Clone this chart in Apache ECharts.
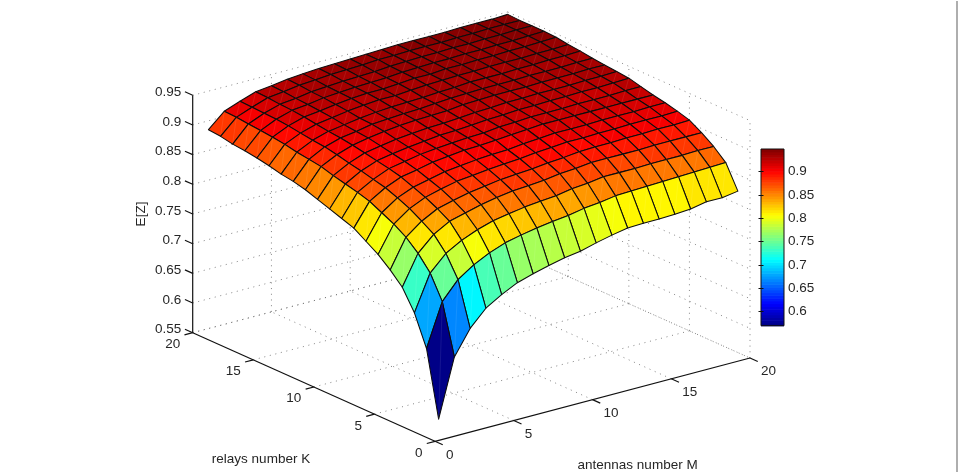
<!DOCTYPE html>
<html>
<head>
<meta charset="utf-8">
<style>html,body{margin:0;padding:0;background:#fff}#chart{width:960px;height:472px}</style>
<script src="https://cdn.jsdelivr.net/npm/echarts@6/dist/echarts.min.js"></script>
</head>
<body>
<div id="chart"></div>
<script>
// Sample grid of the surface
const antennas = [1,2,3,4,5,6,7,8,9,10,11,12,13,14,15,16,17,18,19,20];
const relays   = [1,2,3,4,5,6,7,8,9,10,11,12,13,14,15,16,17,18,19,20];

// E[Z]: one row per antenna count M, one column per relay count K
const ez_m01 = [.571,.681,.732,.766,.786,.803,.816,.829,.836,.843,.850,.857,.862,.865,.870,.874,.877,.879,.883,.885];
const ez_m02 = [.669,.753,.792,.816,.834,.847,.857,.867,.873,.878,.883,.889,.892,.895,.899,.902,.904,.906,.908,.909];
const ez_m03 = [.710,.783,.818,.841,.854,.866,.875,.883,.888,.893,.897,.902,.906,.908,.911,.914,.916,.917,.918,.919];
const ez_m04 = [.737,.801,.833,.856,.868,.878,.886,.894,.899,.903,.907,.911,.914,.916,.919,.922,.924,.925,.927,.928];
const ez_m05 = [.753,.814,.844,.863,.875,.885,.892,.899,.904,.908,.912,.916,.918,.920,.923,.925,.927,.928,.930,.931];
const ez_m06 = [.766,.824,.852,.870,.881,.891,.898,.905,.909,.912,.916,.920,.923,.924,.927,.929,.931,.932,.934,.935];
const ez_m07 = [.774,.830,.857,.875,.885,.894,.901,.908,.912,.915,.919,.923,.925,.927,.930,.932,.933,.934,.936,.937];
const ez_m08 = [.781,.835,.861,.879,.889,.897,.904,.911,.914,.918,.921,.925,.927,.929,.932,.934,.935,.936,.938,.939];
const ez_m09 = [.787,.839,.864,.881,.891,.899,.906,.912,.916,.919,.922,.926,.928,.930,.932,.934,.936,.937,.939,.940];
const ez_m10 = [.791,.842,.866,.883,.893,.901,.907,.914,.917,.921,.924,.927,.930,.931,.934,.936,.937,.938,.940,.941];
const ez_m11 = [.798,.847,.871,.887,.896,.904,.910,.916,.920,.923,.926,.930,.932,.933,.936,.938,.939,.940,.942,.942];
const ez_m12 = [.804,.850,.873,.889,.898,.906,.912,.918,.921,.924,.927,.931,.933,.934,.937,.938,.940,.941,.942,.943];
const ez_m13 = [.809,.854,.877,.892,.901,.908,.914,.920,.923,.926,.929,.932,.934,.936,.938,.940,.941,.942,.943,.944];
const ez_m14 = [.810,.855,.877,.892,.902,.908,.914,.920,.923,.926,.929,.932,.934,.936,.938,.940,.941,.942,.943,.944];
const ez_m15 = [.810,.856,.877,.892,.902,.909,.914,.920,.923,.927,.930,.932,.934,.936,.939,.941,.942,.943,.943,.944];
const ez_m16 = [.811,.857,.878,.892,.903,.909,.915,.920,.924,.927,.930,.933,.935,.937,.939,.941,.942,.943,.944,.944];
const ez_m17 = [.813,.858,.878,.893,.903,.910,.915,.920,.924,.928,.930,.933,.935,.937,.939,.942,.943,.944,.944,.945];
const ez_m18 = [.818,.859,.878,.893,.904,.910,.915,.920,.924,.928,.931,.933,.935,.938,.940,.942,.943,.944,.945,.945];
const ez_m19 = [.818,.860,.879,.893,.904,.910,.916,.920,.925,.929,.931,.934,.936,.938,.940,.943,.944,.945,.945,.945];
const ez_m20 = [.822,.861,.879,.893,.905,.911,.916,.920,.925,.930,.932,.934,.936,.939,.941,.944,.945,.945,.945,.946];
const ezRows = [ez_m01,ez_m02,ez_m03,ez_m04,ez_m05,ez_m06,ez_m07,ez_m08,ez_m09,ez_m10,
                ez_m11,ez_m12,ez_m13,ez_m14,ez_m15,ez_m16,ez_m17,ez_m18,ez_m19,ez_m20];

// Tick values and axis titles
const mTicks = [0,5,10,15,20];
const kTicks = [0,5,10,15,20];
const zTicks = [0.55,0.6,0.65,0.7,0.75,0.8,0.85,0.9,0.95];
const barTicks = [0.6,0.65,0.7,0.75,0.8,0.85,0.9];
const colorMin = 0.57, colorMax = 0.9486;
const mTitle = 'antennas number M', kTitle = 'relays number K', zTitle = 'E[Z]';

// Orthographic view: screen offset per unit of M, K and E[Z]
const view = {ox:435, oy:441.3, mx:15.75, my:-4.165, kx:-12.115, ky:-5.43, zy:-593.5, floor:0.55};
const font = 'Liberation Sans, Helvetica, Arial, sans-serif';
const fontSize = 13.5, textColor = '#262626';

function jet(t) {
  const level = Math.min(63, Math.max(0, Math.floor(t * 64)));
  const v = (level + 0.5) / 64;
  const ch = c => Math.round(255 * Math.min(1, Math.max(0, 1.5 - Math.abs(4 * v - c))));
  return 'rgb(' + ch(3) + ',' + ch(2) + ',' + ch(1) + ')';
}
const faceColor = z => jet((z - colorMin) / (colorMax - colorMin));

function project(api, m, k, z) {
  return api.coord([
    view.ox + view.mx * m + view.kx * k,
    view.oy + view.my * m + view.ky * k + view.zy * (z - view.floor)
  ]);
}

// Far cells come first so nearer ones paint over them
const cells = [];
for (let i = antennas.length - 2; i >= 0; i--)
  for (let j = relays.length - 2; j >= 0; j--) cells.push([i, j]);

const dotted = [];
zTicks.forEach(z => {
  dotted.push([0,20,z, 20,20,z]);
  dotted.push([20,20,z, 20,0,z]);
});
mTicks.slice(1).forEach(m => {
  dotted.push([m,20,0.55, m,20,0.95]);
  dotted.push([m,0,0.55, m,20,0.55]);
});
kTicks.slice(1).forEach(k => {
  dotted.push([20,k,0.55, 20,k,0.95]);
  dotted.push([0,k,0.55, 20,k,0.55]);
});
kTicks.slice(0,1).forEach(k => dotted.push([20,k,0.55, 20,k,0.95]));

const axisLines = [[0,0,0.55, 20,0,0.55],[0,0,0.55, 0,20,0.55],[0,20,0.55, 0,20,0.95]];
const tickLen = 8.5 / Math.hypot(view.mx, view.my);
const tickLenK = 8.5 / Math.hypot(view.kx, view.ky);
const tickMarks = [];
mTicks.forEach(m => tickMarks.push([m,0,0.55, m,-tickLenK,0.55]));
kTicks.forEach(k => tickMarks.push([0,k,0.55, -tickLen,k,0.55]));
zTicks.forEach(z => tickMarks.push([0,20,z, 0,20+tickLenK,z]));

const labels = [];
mTicks.forEach(m => labels.push({p:[m,0,0.55], dx:11, dy:13.7, text:String(m), align:'left'}));
kTicks.forEach(k => labels.push({p:[0,k,0.55], dx:-12.5, dy:11.7, text:String(k), align:'right'}));
zTicks.forEach(z => labels.push({p:[0,20,z], dx:-11.5, dy:-3, text:String(z), align:'right'}));

const frameSegments = dotted.concat(axisLines, tickMarks);

const option = {
  animation: false,
  backgroundColor: '#fff',
  grid: [
    {left:0, top:0, width:960, height:472, show:false},
    {left:761, top:149, width:23, height:176.7, show:true, borderColor:'#111', borderWidth:1, backgroundColor:'transparent', z:5}
  ],
  xAxis: [
    {type:'value', gridIndex:0, min:0, max:960, show:false},
    {type:'value', gridIndex:1, min:0, max:1, show:false}
  ],
  yAxis: [
    {type:'value', gridIndex:0, min:0, max:472, inverse:true, show:false},
    {type:'value', gridIndex:1, min:colorMin, max:colorMax, position:'right', z:6,
     splitLine:{show:false}, axisLine:{show:false},
     axisTick:{show:true, inside:true, length:2.5, customValues:barTicks, lineStyle:{color:'#111', width:1}},
     axisLabel:{show:true, margin:4, customValues:barTicks, color:textColor, fontFamily:font, fontSize:fontSize,
                padding:[2,0,0,0], formatter:v => String(+v.toFixed(2))}},
    {type:'value', gridIndex:1, min:colorMin, max:colorMax, position:'left', z:6,
     splitLine:{show:false}, axisLine:{show:false}, axisLabel:{show:false},
     axisTick:{show:true, inside:true, length:2.5, customValues:barTicks, lineStyle:{color:'#111', width:1}}}
  ],
  graphic: [
    // Thin grey rule down the right side of the page
    {type:'line', silent:true, shape:{x1:957, y1:1, x2:957, y2:472}, style:{stroke:'#9a9a9a', lineWidth:1.6}}
  ],
  series: [
    {
      // Dotted box grid, solid axes and tick marks
      type:'custom', coordinateSystem:'cartesian2d', xAxisIndex:0, yAxisIndex:0, silent:true, clip:false, z:1,
      data: frameSegments.map((_, i) => [i, 0]),
      renderItem: (params, api) => {
        const r = frameSegments[params.dataIndex];
        const a = project(api, r[0], r[1], r[2]), b = project(api, r[3], r[4], r[5]);
        return {type:'line', shape:{x1:a[0], y1:a[1], x2:b[0], y2:b[1]},
                style: params.dataIndex < dotted.length
                  ? {stroke:'#777', lineWidth:0.9, lineDash:[1,4.7]}
                  : {stroke:'#111', lineWidth:1.2}};
      }
    },
    {
      // Axis tick labels
      type:'custom', coordinateSystem:'cartesian2d', xAxisIndex:0, yAxisIndex:0, silent:true, clip:false, z:2,
      data: labels.map((_, i) => [i, 0]),
      renderItem: (params, api) => {
        const l = labels[params.dataIndex];
        const p = project(api, l.p[0], l.p[1], l.p[2]);
        return {type:'text', style:{x:p[0] + l.dx, y:p[1] + l.dy, text:l.text, align:l.align, verticalAlign:'middle',
                fill:textColor, fontFamily:font, fontSize:fontSize}};
      }
    },
    {
      // Faceted surface, each cell coloured from its low-M, low-K corner
      type:'custom', coordinateSystem:'cartesian2d', xAxisIndex:0, yAxisIndex:0, silent:true, clip:false, z:3,
      data: cells,
      renderItem: (params, api) => {
        const i = api.value(0), j = api.value(1);
        const corner = (a, b) => project(api, antennas[a], relays[b], ezRows[a][b]);
        const p00 = corner(i, j), p10 = corner(i + 1, j), p11 = corner(i + 1, j + 1), p01 = corner(i, j + 1);
        return {type:'group', children:[
          {type:'polygon', shape:{points:[p00, p10, p11, p01]},
           style:{fill:faceColor(ezRows[i][j]), stroke:'#0c0c0c', lineWidth:1.05, lineJoin:'round'}},
          {type:'line', shape:{x1:p00[0], y1:p00[1], x2:p11[0], y2:p11[1]},
           style:{stroke:'rgba(255,255,255,0.14)', lineWidth:0.6}}
        ]};
      }
    },
    {
      // Colour scale
      type:'custom', coordinateSystem:'cartesian2d', xAxisIndex:1, yAxisIndex:1, silent:true, z:4,
      data: Array.from({length:64}, (_, i) => [i, 0]),
      renderItem: (params, api) => {
        const n = api.value(0);
        const step = (colorMax - colorMin) / 64;
        const lo = api.coord([0, colorMin + n * step]);
        const hi = api.coord([1, colorMin + (n + 1) * step]);
        return {type:'rect', shape:{x:lo[0], y:hi[1], width:hi[0] - lo[0], height:lo[1] - hi[1] + 0.6},
                style:{fill:jet((n + 0.5) / 64)}};
      }
    },
    {
      // Axis titles
      type:'custom', coordinateSystem:'cartesian2d', xAxisIndex:0, yAxisIndex:0, silent:true, clip:false, z:2,
      data: [[0,0],[1,0],[2,0]],
      renderItem: (params, api) => {
        const base = {fill:textColor, fontFamily:font, fontSize:fontSize, align:'center', verticalAlign:'middle'};
        const origin = project(api, 0, 0, 0.55);
        if (params.dataIndex === 0) {
          return {type:'text', style:Object.assign({x:origin[0] - 174, y:origin[1] + 18, text:kTitle}, base)};
        }
        if (params.dataIndex === 1) {
          return {type:'text', style:Object.assign({x:origin[0] + 202.6, y:origin[1] + 24, text:mTitle}, base)};
        }
        const p = project(api, 0, 20, 0.75);
        return {type:'text', x:p[0] - 51, y:p[1], rotation:Math.PI / 2,
                style:Object.assign({x:0, y:0, text:zTitle}, base)};
      }
    }
  ]
};
echarts.init(document.getElementById('chart'), null, {renderer:'canvas'}).setOption(option);
</script>
</body>
</html>
